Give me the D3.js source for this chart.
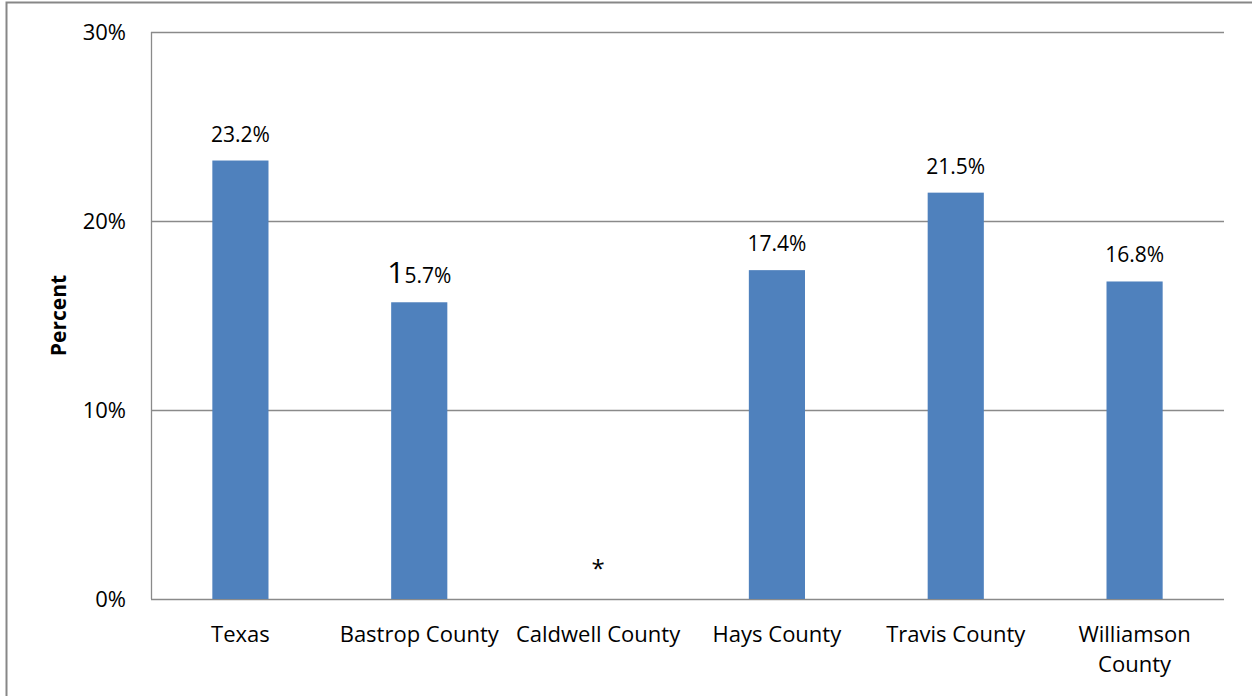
<!DOCTYPE html>
<html>
<head>
<meta charset="utf-8">
<script src="https://cdn.jsdelivr.net/npm/d3@7"></script>
<style>
  body { margin: 0; background: #fff; }
  text { font-family: "Open Sans", Lato, sans-serif; fill: #000; }
</style>
</head>
<body>
<div id="chart"></div>
<script>
// data
const categories = ["Texas", "Bastrop County", "Caldwell County", "Hays County", "Travis County", "Williamson County"];
const values = [23.2, 15.7, null, 17.4, 21.5, 16.8]; // null = suppressed (*)
const yTicks = [0, 10, 20, 30];

const width = 1252, height = 696;
const margin = {top: 32, right: 28, bottom: 97, left: 151};

const svg = d3.select("#chart").append("svg")
    .attr("width", width)
    .attr("height", height);

// outer frame (runs off the right edge like the original)
svg.append("rect")
    .attr("x", 6.5).attr("y", 2.5)
    .attr("width", width + 10).attr("height", height + 10)
    .attr("fill", "none")
    .attr("stroke", "#878787")
    .attr("stroke-width", 2);

const x = d3.scaleBand()
    .domain(categories)
    .range([margin.left, width - margin.right])
    .paddingInner(0.686)
    .paddingOuter(0.343);

const y = d3.scaleLinear()
    .domain([0, 30])
    .range([height - margin.bottom, margin.top]);

// gridlines
svg.append("g")
  .selectAll("line")
  .data(yTicks)
  .join("line")
    .attr("x1", margin.left)
    .attr("x2", width - margin.right)
    .attr("y1", d => Math.round(y(d)) + 0.5)
    .attr("y2", d => Math.round(y(d)) + 0.5)
    .attr("stroke", "#8a8a8a")
    .attr("stroke-width", 1.3);

// y axis line
svg.append("line")
    .attr("x1", margin.left + 0.5).attr("x2", margin.left + 0.5)
    .attr("y1", y(30)).attr("y2", y(0))
    .attr("stroke", "#8a8a8a")
    .attr("stroke-width", 1.3);

// tick labels
svg.append("g")
  .selectAll("text")
  .data(yTicks)
  .join("text")
    .attr("x", 126)
    .attr("y", d => y(d))
    .attr("dy", "0.35em")
    .attr("text-anchor", "end")
    .style("font-size", "22px")
    .text(d => d + "%");

// y title
svg.append("text")
    .attr("transform", `translate(66,${(y(0) + y(30)) / 2}) rotate(-90)`)
    .attr("text-anchor", "middle")
    .style("font-size", "21px")
    .style("font-weight", "bold")
    .text("Percent");

// bars
svg.append("g")
  .selectAll("rect")
  .data(values.map((v, i) => ({cat: categories[i], v})).filter(d => d.v !== null))
  .join("rect")
    .attr("x", d => x(d.cat))
    .attr("y", d => y(d.v))
    .attr("width", x.bandwidth())
    .attr("height", d => y(0) - y(d.v))
    .attr("fill", "#4f81bd");

// value labels
const lbl = svg.append("g")
  .selectAll("text")
  .data(values.map((v, i) => ({cat: categories[i], v})))
  .join("text")
    .attr("x", d => x(d.cat) + x.bandwidth() / 2)
    .attr("y", d => d.v === null ? y(0) - 22 : y(d.v) - 19)
    .attr("text-anchor", "middle")
    .style("font-size", "21px");

lbl.each(function(d) {
  const t = d3.select(this);
  if (d.v === null) { t.style("font-size", "24px").text("*"); return; }
  const s = d.v.toFixed(1) + "%";
  if (d.cat === "Bastrop County") {
    // the original has an oversized leading "1" here
    t.append("tspan").style("font-size", "30px").text(s[0]);
    t.append("tspan").text(s.slice(1));
  } else {
    t.text(s);
  }
});

// x labels
svg.append("g")
  .selectAll("text")
  .data(categories)
  .join("text")
    .attr("x", d => x(d) + x.bandwidth() / 2)
    .attr("y", 642)
    .attr("text-anchor", "middle")
    .style("font-size", "22px")
    .each(function(d) {
      const t = d3.select(this);
      if (d === "Williamson County") {
        t.append("tspan").attr("x", x(d) + x.bandwidth() / 2).text("Williamson");
        t.append("tspan").attr("x", x(d) + x.bandwidth() / 2).attr("dy", 30).text("County");
      } else {
        t.text(d);
      }
    });
</script>
</body>
</html>
